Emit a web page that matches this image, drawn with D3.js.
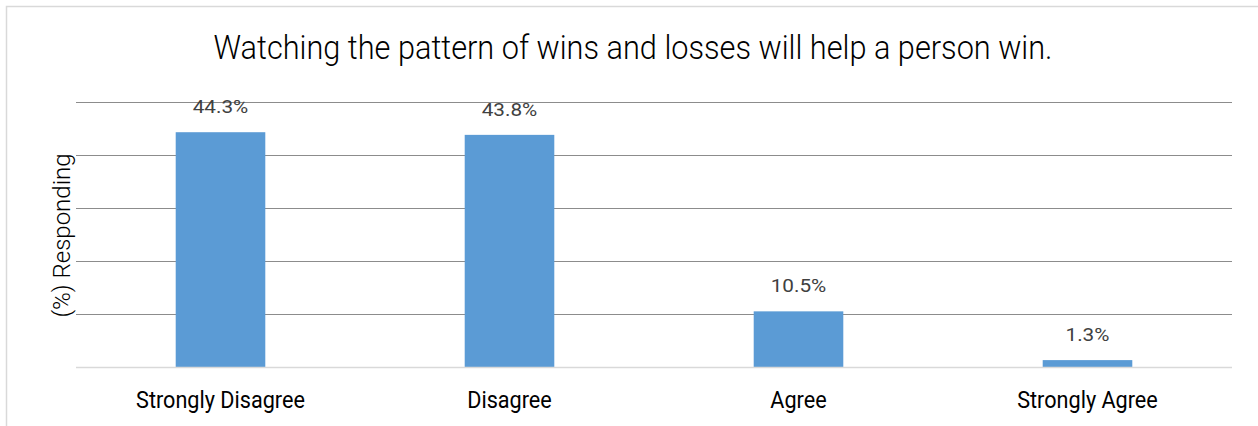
<!DOCTYPE html>
<html><head><meta charset="utf-8">
<script src="https://cdn.jsdelivr.net/npm/d3@7"></script>
<style>body{margin:0;background:#fff;} svg{display:block;}</style>
</head><body>
<svg id="c" width="1258" height="426"></svg>
<script>
const categories = ["Strongly Disagree", "Disagree", "Agree", "Strongly Agree"];
const values = [44.3, 43.8, 10.5, 1.3];
const valueLabels = ["44.3%", "43.8%", "10.5%", "1.3%"];
const yTicks = [0, 10, 20, 30, 40, 50];
const title = "Watching the pattern of wins and losses will help a person win.";
const yTitle = "(%) Responding";

const W = 1258, H = 426;
const m = {left: 76, right: 26, top: 102, bottom: 59};
const svg = d3.select("#c");
const font = "Roboto, 'Liberation Sans', sans-serif";

// horizontally condense/stretch a text selection by a factor
function squeeze(sel, f) {
  sel.each(function () {
    const len = this.getComputedTextLength();
    d3.select(this).attr("textLength", len * f).attr("lengthAdjust", "spacingAndGlyphs");
  });
}

svg.append("rect").attr("x", 6.5).attr("y", 6.5).attr("width", 1300).attr("height", 500)
  .attr("fill", "#fff").attr("stroke", "#d9d9d9").attr("stroke-width", 1.5);

const x = d3.scaleBand().domain(categories).range([m.left, W - m.right]).paddingInner(0.69).paddingOuter(0.345);
const y = d3.scaleLinear().domain([0, 50]).range([H - m.bottom, m.top]);

// gridlines
svg.append("g").selectAll("line").data(yTicks.filter(d => d > 0)).join("line")
  .attr("x1", m.left).attr("x2", W - m.right)
  .attr("y1", d => Math.round(y(d)) + 0.5).attr("y2", d => Math.round(y(d)) + 0.5)
  .attr("stroke", "#8c8c8c").attr("stroke-width", 1);

// bars
svg.append("g").selectAll("rect").data(values).join("rect")
  .attr("x", (d, i) => x(categories[i]))
  .attr("y", d => y(d))
  .attr("width", x.bandwidth())
  .attr("height", d => y(0) - y(d))
  .attr("fill", "#5b9bd5");

// baseline
svg.append("line").attr("x1", m.left).attr("x2", W - m.right)
  .attr("y1", y(0) + 0.5).attr("y2", y(0) + 0.5)
  .attr("stroke", "#d9d9d9").attr("stroke-width", 1.5);

// value labels
const vl = svg.append("g").selectAll("text").data(values).join("text")
  .attr("x", (d, i) => x(categories[i]) + x.bandwidth() / 2)
  .attr("y", d => y(d) - 19)
  .attr("text-anchor", "middle")
  .attr("font-family", font).attr("font-size", 18.5).attr("fill", "#404040")
  .text((d, i) => valueLabels[i]);
squeeze(vl, 1.12);

// category labels
const cl = svg.append("g").selectAll("text").data(categories).join("text")
  .attr("x", d => x(d) + x.bandwidth() / 2)
  .attr("y", 407.5)
  .attr("text-anchor", "middle")
  .attr("font-family", font).attr("font-size", 23).attr("fill", "#000")
  .text(d => d);
squeeze(cl, 0.94);

// title
const tt = svg.append("text").attr("x", 633).attr("y", 59).attr("text-anchor", "middle")
  .attr("font-family", font).attr("font-weight", 300).attr("font-size", 33).attr("fill", "#000")
  .text(title);
squeeze(tt, 0.93);

// y title
svg.append("text").attr("transform", `translate(70,${(y(0) + y(50)) / 2 + 1}) rotate(-90)`)
  .attr("text-anchor", "middle")
  .attr("font-family", font).attr("font-weight", 300).attr("font-size", 24).attr("fill", "#000")
  .text(yTitle);
</script>
</body></html>
